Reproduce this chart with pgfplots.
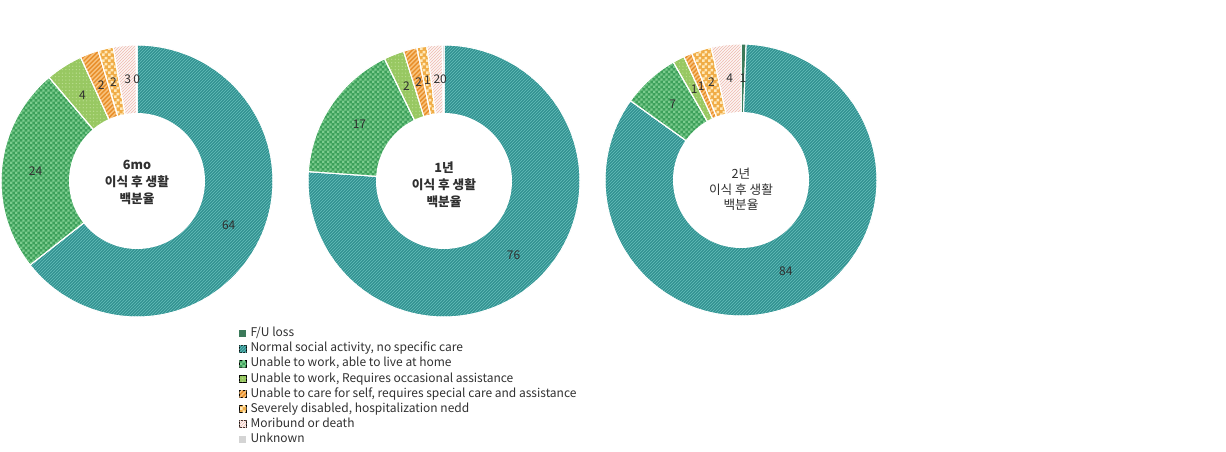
\documentclass[border=0pt]{standalone}
\usepackage{fontspec}
\setmainfont{Noto Sans CJK KR}
\usepackage{pgfplots}
\usepackage{pgfplotstable}
\pgfplotsset{compat=1.18}
\usetikzlibrary{patterns}

% ---------- patterns ----------
\pgfdeclarepatternformonly{fine ne}{\pgfqpoint{-1pt}{-1pt}}{\pgfqpoint{3.25pt}{3.25pt}}{\pgfqpoint{2.25pt}{2.25pt}}{%
  \pgfsetlinewidth{0.6pt}\pgfpathmoveto{\pgfqpoint{0pt}{0pt}}\pgfpathlineto{\pgfqpoint{2.35pt}{2.35pt}}\pgfusepath{stroke}}
\pgfdeclarepatternformonly{wide ne}{\pgfqpoint{-1pt}{-1pt}}{\pgfqpoint{4.5pt}{4.5pt}}{\pgfqpoint{3.4pt}{3.4pt}}{%
  \pgfsetlinewidth{1.1pt}\pgfpathmoveto{\pgfqpoint{0pt}{0pt}}\pgfpathlineto{\pgfqpoint{3.5pt}{3.5pt}}\pgfusepath{stroke}}
\pgfdeclarepatternformonly{fine checker}{\pgfpointorigin}{\pgfqpoint{3.6pt}{3.6pt}}{\pgfqpoint{3.6pt}{3.6pt}}{%
  \pgfpathrectangle{\pgfpointorigin}{\pgfqpoint{1.8pt}{1.8pt}}%
  \pgfpathrectangle{\pgfqpoint{1.8pt}{1.8pt}}{\pgfqpoint{1.8pt}{1.8pt}}%
  \pgfusepath{fill}}
\pgfdeclarepatternformonly{mid checker}{\pgfpointorigin}{\pgfqpoint{4.5pt}{4.5pt}}{\pgfqpoint{4.5pt}{4.5pt}}{%
  \pgfpathrectangle{\pgfpointorigin}{\pgfqpoint{2.25pt}{2.25pt}}%
  \pgfpathrectangle{\pgfqpoint{2.25pt}{2.25pt}}{\pgfqpoint{2.25pt}{2.25pt}}%
  \pgfusepath{fill}}
\pgfdeclarepatternformonly{fine dots}{\pgfqpoint{-0.6pt}{-0.6pt}}{\pgfqpoint{0.6pt}{0.6pt}}{\pgfqpoint{2.6pt}{2.6pt}}{%
  \pgfpathcircle{\pgfpointorigin}{0.5pt}\pgfusepath{fill}}

% ---------- colours ----------
\definecolor{cFU}{HTML}{3C7A5A}
\definecolor{cN}{HTML}{2A8A8A}
\definecolor{cN2}{HTML}{5CB6B2}
\definecolor{cH}{HTML}{3CA05A}
\definecolor{cH2}{HTML}{7CCC8E}
\definecolor{cO}{HTML}{98C862}
\definecolor{cO2}{HTML}{BCDE92}
\definecolor{cS}{HTML}{E88E2A}
\definecolor{cS2}{HTML}{F8C27C}
\definecolor{cV}{HTML}{F0AC46}
\definecolor{cV2}{HTML}{FFE8B8}
\definecolor{cM}{HTML}{F0C4BA}
\definecolor{cU}{HTML}{D4D4D4}
\definecolor{txt}{HTML}{303030}

\pgfplotsset{
  s0/.style={fill=cFU},
  s1/.style={preaction={fill=cN}, pattern=fine ne, pattern color=cN2},
  s2/.style={preaction={fill=cH}, pattern=fine checker, pattern color=cH2},
  s3/.style={preaction={fill=cO}, pattern=fine dots, pattern color=cO2},
  s4/.style={preaction={fill=cS}, pattern=wide ne, pattern color=cS2},
  s5/.style={preaction={fill=cV}, pattern=mid checker, pattern color=cV2},
  s6/.style={preaction={fill=white}, pattern=fine ne, pattern color=cM},
  s7/.style={fill=cU},
  donut/.style={scale only axis, width=204pt, height=204pt,
    xmin=-1, xmax=1, ymin=-1, ymax=1, hide axis, clip=false, anchor=center},
}

% ---------- data (percent, clockwise from 12 o'clock) ----------
\pgfplotstableread{
cat val
0 0
1 64.4
2 24.4
3 4.4
4 2.2
5 1.8
6 2.7
7 0.1
}\tabA
\pgfplotstableread{
cat val
0 0
1 76.1
2 16.7
3 2.4
4 1.6
5 1.2
6 1.8
7 0.2
}\tabB
\pgfplotstableread{
cat val
0 0.6
1 84.3
2 6.8
3 1.4
4 1.0
5 2.4
6 3.5
7 0
}\tabC

\newcommand\donut[1]{%
  \pgfplotstablegetrowsof{#1}%
  \pgfmathtruncatemacro\nr{\pgfplotsretval-1}%
  \def\cum{0}%
  \pgfplotsforeachungrouped \i in {0,...,\nr}{%
    \pgfplotstablegetelem{\i}{val}\of{#1}\let\v\pgfplotsretval
    \pgfmathsetmacro\a{\cum*3.6}%
    \pgfmathsetmacro\cum{\cum+\v}%
    \pgfmathsetmacro\b{\cum*3.6}%
    \pgfmathtruncatemacro\ok{\v>0.001}%
    \pgfmathtruncatemacro\ns{max(3,(\b-\a)/1.5+2)}%
    \ifnum\ok=1
      \edef\temp{\noexpand\addplot[s\i, draw=white, line width=0.75pt, mark=none,
        domain=\a:\b, samples=\ns] ({sin(x)},{cos(x)}) -- (axis cs:0,0) -- cycle;}%
      \temp
    \fi}%
  \fill[white] (axis cs:0,0) circle[radius=0.5];
  \def\cum{0}%
  \pgfplotsforeachungrouped \i in {0,...,\nr}{%
    \pgfplotstablegetelem{\i}{val}\of{#1}\let\v\pgfplotsretval
    \pgfmathsetmacro\m{(\cum+\v/2)*3.6}%
    \pgfmathsetmacro\cum{\cum+\v}%
    \pgfmathsetmacro\lx{0.75*sin(\m)}%
    \pgfmathsetmacro\ly{0.75*cos(\m)}%
    \pgfmathtruncatemacro\lab{round(\v)}%
    \pgfmathtruncatemacro\ok{\v>0.001}%
    \ifnum\ok=1
      \edef\temp{\noexpand\node[text=txt, font=\noexpand\fontsize{9}{10}\noexpand\selectfont, inner sep=0pt]
        at (axis cs:\lx,\ly) {\lab};}%
      \temp
    \fi}%
}

\begin{document}
\begin{tikzpicture}[x=0.75pt,y=0.75pt]
\useasboundingbox (0,0) rectangle (1226,451);

\begin{axis}[donut, at={(102.75pt,202.5pt)}]
  \donut{\tabA}
  \node[align=center, text=txt, font=\bfseries\fontsize{9.5}{12.75}\selectfont] at (axis cs:0,-0.01) {6mo\\이식 후 생활\\백분율};
\end{axis}

\begin{axis}[donut, at={(333pt,202.5pt)}]
  \donut{\tabB}
  \node[align=center, text=txt, font=\bfseries\fontsize{9.5}{12.75}\selectfont] at (axis cs:0,-0.03) {1년\\이식 후 생활\\백분율};
\end{axis}

\begin{axis}[donut, at={(555.75pt,203.25pt)}]
  \donut{\tabC}
  \node[align=center, text=txt, font=\fontsize{9.5}{11.5}\selectfont] at (axis cs:0,-0.07) {2년\\이식 후 생활\\백분율};
\end{axis}

\begin{axis}[scale only axis, width=10pt, height=10pt, hide axis,
  xmin=0, xmax=1, ymin=0, ymax=1, at={(179.25pt,92.3pt)}, anchor=north west,
  legend style={at={(0,1)}, anchor=north west, draw=none, fill=none,
    inner sep=0pt, outer sep=0pt, row sep=3.05pt,
    font=\fontsize{9}{11}\selectfont, text=txt,
    nodes={inner sep=0pt, text height=6.5pt, text depth=1.8pt},
    /tikz/every odd column/.append style={column sep=3pt}},
  legend cell align=left,
  legend image code/.code={\path[#1, draw=none] (0pt,-2.6pt) rectangle (5.25pt,2.65pt);}]
  \addlegendimage{s0}\addlegendentry{F/U loss}
  \addlegendimage{s1}\addlegendentry{Normal social activity, no specific care}
  \addlegendimage{s2}\addlegendentry{Unable to work, able to live at home}
  \addlegendimage{s3}\addlegendentry{Unable to work, Requires occasional assistance}
  \addlegendimage{s4}\addlegendentry{Unable to care for self, requires special care and assistance}
  \addlegendimage{s5}\addlegendentry{Severely disabled, hospitalization nedd}
  \addlegendimage{s6}\addlegendentry{Moribund or death}
  \addlegendimage{s7}\addlegendentry{Unknown}
\end{axis}
\end{tikzpicture}
\end{document}
